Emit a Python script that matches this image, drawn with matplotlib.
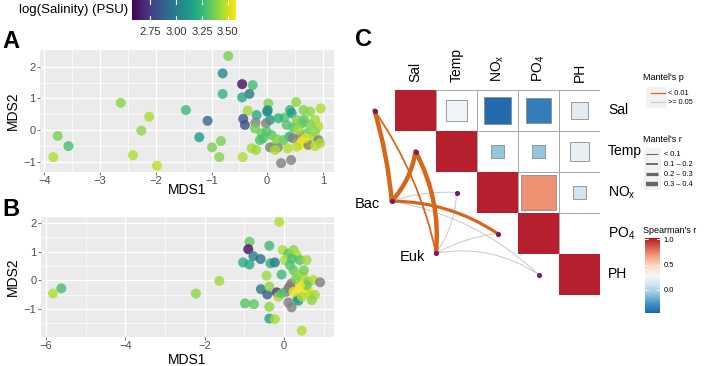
import numpy as np
import matplotlib
matplotlib.use('Agg')
import matplotlib.pyplot as plt
from matplotlib.colors import LinearSegmentedColormap, Normalize
from matplotlib.patches import Rectangle, FancyArrowPatch

plt.rcParams['font.family'] = ['Liberation Sans', 'DejaVu Sans']
plt.rcParams['mathtext.fontset'] = 'custom'
plt.rcParams['mathtext.rm'] = 'Liberation Sans'

# ---------------- data ----------------
# Panel A: MDS of Bac (x, y, log salinity; nan = missing)
a_x = [-3.76, -3.57, -3.84, -2.63, -2.12, -2.26, -2.41, -1.98, -1.46, -1.07, -1.22, -0.99, -0.83, -0.86,
       -0.70, -0.80, -0.80, -0.45, -0.26, -0.32, -0.45, -0.44, -0.35, -0.43, -0.40, -0.19, -0.21, -0.22,
       -0.28, -0.20, 0.02, 0.01, 0.00, 0.05, -0.02, -0.10, -0.07, -0.13, 0.08, 0.11, 0.05, 0.19, 0.14,
       0.25, 0.43, 0.31, 0.41, 0.44, 0.52, 0.47, 0.40, 0.46, 0.59, 0.65, 0.77, 0.96, 0.86, 0.92, 0.77,
       0.62, 0.56, 0.71, 0.83, 0.92, 0.62, 0.59, 0.71, 0.74, 0.86, 0.95, 0.68, 0.35, 0.20, 0.29, 0.37,
       0.53, 0.17, -0.01, 0.53, 0.66, 0.86]
a_y = [-0.19, -0.51, -0.86, 0.86, 0.42, -0.02, -0.80, -1.13, 0.63, 0.29, -0.23, -0.55, -0.35, -0.86,
       2.34, 1.79, 1.14, 1.45, 1.42, 1.14, 1.03, -0.86, 0.61, 0.35, 0.16, 0.47, 0.23, 0.05,
       -0.58, -0.63, 0.84, 0.63, 0.58, 0.32, 0.21, -0.11, -0.26, -0.32, -0.16, -0.53, -0.55, -0.55, -0.63,
       -1.05, -0.95, 0.39, 0.63, 0.53, 0.88, 0.08, -0.21, -0.26, -0.19, 0.63, 0.58, 0.68, 0.32, 0.11, 0.16,
       0.21, 0.00, -0.11, -0.21, -0.32, -0.37, -0.47, -0.47, -0.47, -0.51, -0.42, -0.26, 0.16, 0.37, -0.32, -0.58,
       -0.53, -0.29, -0.05, 0.32, 0.32, -0.05]
a_sal = [3.37, 3.27, 3.45, 3.39, 3.44, 3.40, 3.45, 3.47, 3.25, 2.92, 3.12, 3.37, 3.37, 3.39,
         3.37, 3.05, 3.22, 2.60, 3.27, 2.97, 3.17, 3.45, 3.43, 2.85, 2.81, 3.19, np.nan, 3.35,
         3.44, 3.42, 3.38, 3.10, 3.05, 3.12, np.nan, 3.35, 3.30, 3.28, 3.32, 3.45, np.nan, np.nan, 3.44,
         np.nan, np.nan, 3.30, 3.22, 3.12, 3.40, 3.30, 3.20, np.nan, np.nan, 3.38, 3.40, 3.45, 3.44, 3.45, 3.38,
         3.30, 3.44, 3.33, 3.45, np.nan, 3.57, 3.55, 3.56, np.nan, 3.46, 3.44, 3.53, 3.30, 3.22, 3.32, 3.45,
         3.46, 3.38, 3.30, 3.38, 3.32, 3.40]

# Panel B: MDS of Euk
b_x = [-5.82, -5.61, -2.22, -1.63, -0.12, -0.87, -0.90, -0.77, -0.59, -1.03, -0.87, -0.37, -0.34, -0.23,
       -0.44, -0.06, -0.03, 0.11, 0.24, 0.32, 0.40, 0.57, 0.03, 0.15, 0.24, 0.36, 0.49, 0.61, 0.74,
       0.91, 0.19, 0.11, 0.05, 0.15, 0.11, 0.19, -0.58, -0.42, -0.37, -0.18, -0.14, -0.06, -0.98, -0.76,
       -0.37, -0.37, -0.23, 0.45, 0.34, 0.36, 0.24, 0.49, 0.61, 0.45, 0.66, 0.78, 0.70, 0.57, 0.40,
       0.30, 0.50, 0.20]
b_y = [-0.46, -0.28, -0.46, -0.02, 2.03, 1.34, 1.08, 0.84, 0.74, 0.62, 0.55, 1.20, 0.59, 0.62,
       0.16, 0.20, 1.05, 0.93, 1.05, 0.88, 0.70, 0.70, 0.70, 0.53, 0.35, 0.18, 0.12, -0.05, 0.01,
       -0.07, -0.11, -0.28, -0.40, -0.19, -0.77, -0.94, -0.31, -0.49, -0.22, -0.42, -0.57, -0.46, -0.80, -0.83,
       -0.92, -1.33, -1.35, -1.75, -0.63, -0.71, -0.40, -0.40, -0.34, -0.57, -0.51, -0.51, -0.69, -0.17, -0.17,
       0.05, 0.35, 0.75]
b_sal = [3.45, 3.27, 3.40, 3.42, 3.45, 3.32, 2.60, 3.00, 2.95, 3.20, 3.18, 3.25, 3.20, 2.97,
         3.42, 3.25, 3.45, 3.30, 3.40, 3.45, 3.30, 3.43, 3.44, 3.30, 3.32, 3.40, 3.45, 3.40, 3.45,
         np.nan, np.nan, np.nan, np.nan, np.nan, np.nan, np.nan, 2.97, 2.85, 3.40, 2.70, 3.44, 3.30, 3.30, 3.32,
         3.40, 3.15, 3.44, 3.45, 3.20, 3.12, 3.55, 3.57, 3.56, 3.45, 3.46, 3.44, 3.40, 3.33, 3.55,
         3.38, 3.35, 3.28]
sal_lim = (2.57, 3.57)
sal_ticks = [2.75, 3.00, 3.25, 3.50]

# Panel C: Spearman correlation among environmental factors (upper triangle)
env_names = ['Sal', 'Temp', 'NO$_\\mathregular{x}$', 'PO$_\\mathregular{4}$', 'PH']
spearman = np.array([
    [1.00, 0.25, -0.44, -0.36, 0.18],
    [np.nan, 1.00, -0.09, -0.09, 0.21],
    [np.nan, np.nan, 1.00, 0.70, 0.10],
    [np.nan, np.nan, np.nan, 1.00, 0.00],
    [np.nan, np.nan, np.nan, np.nan, 1.00]])
spear_lim = (-0.46, 1.02)
spear_ticks = [0.0, 0.5, 1.0]

# Mantel tests: community vs environmental factor
species = ['Bac', 'Euk']
mantel_r = {'Bac': [0.35, 0.33, 0.05, 0.25, 0.05],
            'Euk': [0.15, 0.38, 0.05, 0.05, 0.05]}
mantel_p = {'Bac': [0.001, 0.001, 0.30, 0.001, 0.20],
            'Euk': [0.001, 0.001, 0.40, 0.30, 0.30]}
r_bins = [0.1, 0.2, 0.3, 0.4]
r_bin_labels = ['< 0.1', '0.1 \u2013 0.2', '0.2 \u2013 0.3', '0.3 \u2013 0.4']
p_labels = ['< 0.01', '>= 0.05']

# ---------------- styles ----------------
W, H = 706, 366
fig = plt.figure(figsize=(W / 100, H / 100), dpi=100)


def pax(x0, y0, x1, y1):
    return fig.add_axes([x0 / W, 1 - y1 / H, (x1 - x0) / W, (y1 - y0) / H])


vir = plt.get_cmap('viridis')
snorm = Normalize(*sal_lim)
NA_COL = '#808080'
spear_cmap = LinearSegmentedColormap.from_list(
    'rdbu', ['#2166AC', '#4393C3', '#92C5DE', '#D1E5F0', '#F7F7F7',
             '#FDDBC7', '#F4A582', '#D6604D', '#B2182B'])
cnorm = Normalize(*spear_lim)
ORANGE = '#D8661A'
GREYLINE = '#CCCCCC'
r_widths = [0.75, 1.3, 2.3, 3.2]


def width_of(r):
    for b, w in zip(r_bins, r_widths):
        if r < b:
            return w
    return r_widths[-1]


def mds_panel(ax, x, y, s, xlim, ylim, xmaj, xmin, ymaj, ymin):
    ax.set_facecolor('#EBEBEB')
    for v in xmin:
        ax.axvline(v, color='white', lw=0.45, zorder=0)
    for v in ymin:
        ax.axhline(v, color='white', lw=0.45, zorder=0)
    for v in xmaj:
        ax.axvline(v, color='white', lw=0.9, zorder=0)
    for v in ymaj:
        ax.axhline(v, color='white', lw=0.9, zorder=0)
    s = np.asarray(s, float)
    cols = [NA_COL if np.isnan(v) else vir(snorm(v)) for v in s]
    ax.scatter(x, y, c=cols, s=52, alpha=0.8, linewidths=0, zorder=2)
    ax.set_xlim(*xlim)
    ax.set_ylim(*ylim)
    ax.set_xticks(xmaj)
    ax.set_yticks(ymaj)
    ax.tick_params(length=2, width=0.5, color='#333333', labelsize=8,
                   labelcolor='#4D4D4D', pad=1)
    for sp in ax.spines.values():
        sp.set_visible(False)


axA = pax(40, 50, 334, 172)
mds_panel(axA, a_x, a_y, a_sal, (-4.08, 1.2), (-1.33, 2.53),
          [-4, -3, -2, -1, 0, 1], [-3.5, -2.5, -1.5, -0.5, 0.5],
          [-1, 0, 1, 2], [-0.5, 0.5, 1.5])
axB = pax(40.7, 216.7, 334, 336.7)
mds_panel(axB, b_x, b_y, b_sal, (-6.13, 1.26), (-1.96, 2.21),
          [-6, -4, -2, 0], [-5, -3, -1, 1],
          [-1, 0, 1, 2], [-1.5, -0.5, 0.5, 1.5])

# salinity colour bar
cb = pax(131.7, 0, 235, 20)
grad = np.linspace(*sal_lim, 256)[None, :]
cb.imshow(grad, cmap=vir, norm=snorm, aspect='auto',
          extent=[sal_lim[0], sal_lim[1], 0, 1])
for v in sal_ticks:
    cb.plot([v, v], [0, 0.2], color='white', lw=0.8)
    cb.plot([v, v], [0.8, 1], color='white', lw=0.8)
cb.set_xlim(*sal_lim)
cb.set_ylim(0, 1)
cb.set_yticks([])
cb.set_xticks(sal_ticks)
cb.set_xticklabels(['%.2f' % v for v in sal_ticks])
cb.tick_params(axis='x', length=0, labelsize=8, labelcolor='#333333', pad=5)
for sp in cb.spines.values():
    sp.set_visible(False)

# ---------------- panel C ----------------
axC = pax(395, 90, 600, 295)
axC.set_xlim(0, 5)
axC.set_ylim(5, 0)
axC.axis('off')
n = len(env_names)
for i in range(n):
    for j in range(i + 1, n):
        axC.add_patch(Rectangle((j, i), 1, 1, fc='white', ec='#A6A6A6', lw=0.7, zorder=1))
for i in range(n):
    for j in range(i, n):
        v = spearman[i, j]
        side = np.sqrt(abs(v))
        if side <= 0:
            continue
        ec = 'none' if i == j else '#8C8C8C'
        axC.add_patch(Rectangle((j + 0.5 - side / 2, i + 0.5 - side / 2), side, side,
                                fc=spear_cmap(cnorm(v)), ec=ec, lw=0.6, zorder=2))
for i, name in enumerate(env_names):
    axC.text(i + 0.5, -0.2, name, rotation=90, ha='center', va='bottom', fontsize=10)
    axC.text(5.2, i + 0.5, name, ha='left', va='center', fontsize=10)

env_pos = [(i - 0.5, i + 0.5) for i in range(n)]
sp_pos = {'Bac': (-0.08, 2.71), 'Euk': (1.0, 3.98)}
rad = {('Bac', 0): 0.05, ('Bac', 1): 0.15, ('Bac', 2): -0.1, ('Bac', 3): -0.15, ('Bac', 4): -0.15,
       ('Euk', 0): 0.1, ('Euk', 1): 0.15, ('Euk', 2): 0.15, ('Euk', 3): -0.1, ('Euk', 4): -0.2}
edges = []
for sp_name in species:
    for k in range(n):
        edges.append((mantel_p[sp_name][k] < 0.01, sp_name, k))
edges.sort(key=lambda e: e[0])
for sig, sp_name, k in edges:
    col = ORANGE if sig else GREYLINE
    lw = width_of(mantel_r[sp_name][k])
    arr = FancyArrowPatch(sp_pos[sp_name], env_pos[k], arrowstyle='-',
                          connectionstyle='arc3,rad=%g' % rad[(sp_name, k)],
                          shrinkA=0, shrinkB=0, color=col, lw=lw, zorder=3,
                          clip_on=False, capstyle='round')
    axC.add_patch(arr)
allpts = env_pos + [sp_pos[s] for s in species]
axC.scatter([p[0] for p in allpts], [p[1] for p in allpts], s=14, color='#741A6E',
            zorder=5, clip_on=False, linewidths=0)
axC.text(-0.37, 2.78, 'Bac', ha='right', va='center', fontsize=10.5)
axC.text(0.73, 4.07, 'Euk', ha='right', va='center', fontsize=10.5)

# Spearman colour bar
sc = pax(645, 238.3, 660, 313.3)
g2 = np.linspace(*spear_lim, 256)[:, None]
sc.imshow(g2, cmap=spear_cmap, norm=cnorm, aspect='auto', origin='lower',
          extent=[0, 1, spear_lim[0], spear_lim[1]])
for v in spear_ticks:
    sc.plot([0, 0.2], [v, v], color='white', lw=0.6)
    sc.plot([0.8, 1], [v, v], color='white', lw=0.6)
sc.set_xlim(0, 1)
sc.set_ylim(*spear_lim)
sc.set_xticks([])
sc.yaxis.tick_right()
sc.set_yticks(spear_ticks)
sc.set_yticklabels(['%.1f' % v for v in spear_ticks])
sc.tick_params(axis='y', length=0, labelsize=5.5, pad=2.5)
for s_ in sc.spines.values():
    s_.set_visible(False)

# overlay for labels and legends (pixel coordinates)
ov = pax(0, 0, W, H)
ov.set_xlim(0, W)
ov.set_ylim(H, 0)
ov.axis('off')
ov.text(2, 48, 'A', fontsize=17, fontweight='bold', va='baseline')
ov.text(2, 216, 'B', fontsize=17, fontweight='bold', va='baseline')
ov.text(355, 46.5, 'C', fontsize=17, fontweight='bold', va='baseline')
ov.text(128, 10, 'log(Salinity) (PSU)', fontsize=9.5, ha='right', va='center')
ov.text(187, 190, 'MDS1', fontsize=10, ha='center', va='center')
ov.text(187, 360, 'MDS1', fontsize=10, ha='center', va='center')
ov.text(13, 111, 'MDS2', fontsize=10, ha='center', va='center', rotation=90)
ov.text(13, 276.7, 'MDS2', fontsize=10, ha='center', va='center', rotation=90)

# Mantel's p legend
ov.text(643, 78, "Mantel's p", fontsize=6.5, va='center')
ov.add_patch(Rectangle((646, 87), 21, 21, fc='#F2F2F2', ec='none'))
for yy, col, lab in zip([93.3, 102.3], [ORANGE, GREYLINE], p_labels):
    ov.plot([651, 665], [yy, yy], color=col, lw=0.9)
    ov.text(668.5, yy, lab, fontsize=5.3, va='center')
# Mantel's r legend
ov.text(643, 139.3, "Mantel's r", fontsize=6.5, va='center')
ov.add_patch(Rectangle((644, 148), 17, 42, fc='#F2F2F2', ec='none'))
for yy, w, lab in zip([154.3, 164, 174.3, 184], r_widths, r_bin_labels):
    ov.plot([646, 658], [yy, yy], color='#666666', lw=w, solid_capstyle='butt')
    ov.text(664, yy, lab, fontsize=5.3, va='center')
ov.text(643, 230.5, "Spearman's r", fontsize=6.5, va='center')

fig.savefig('out.png', dpi=100)
